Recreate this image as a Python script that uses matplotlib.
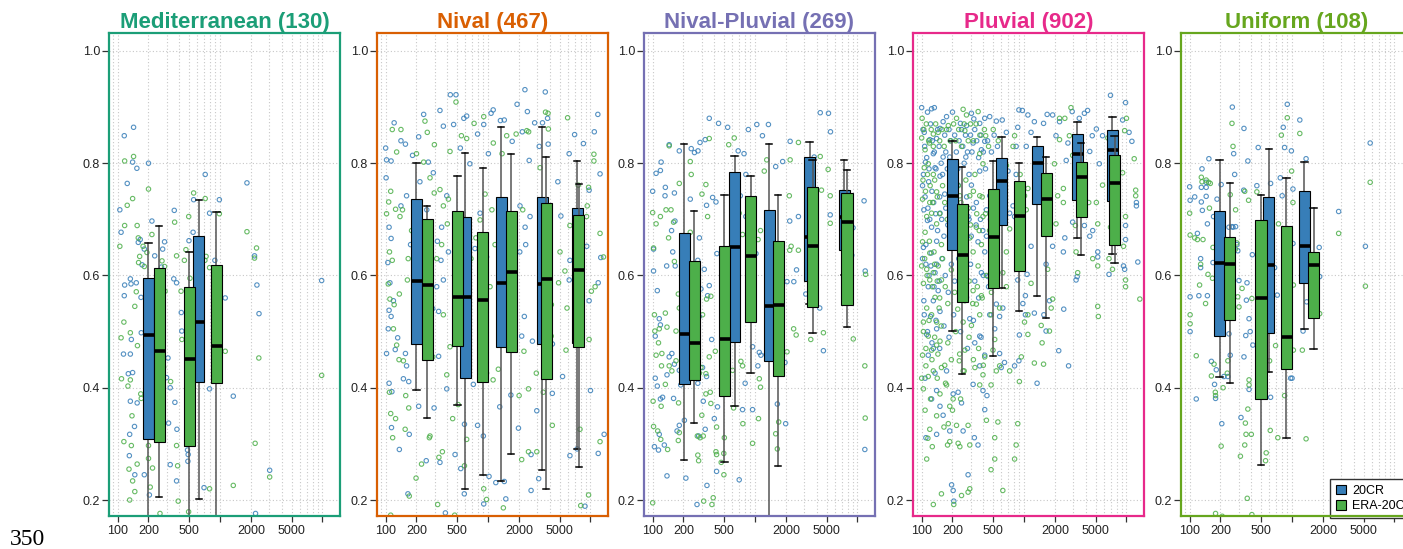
import matplotlib
matplotlib.use('Agg')
import matplotlib.pyplot as plt
from matplotlib.patches import Rectangle, Patch
from matplotlib.ticker import FixedLocator, NullLocator

plt.rcParams['font.family'] = ['Liberation Sans', 'DejaVu Sans']

BLUE = '#377eb8'
GREEN = '#4daf4a'

regimes = ['Mediterranean', 'Nival', 'Nival-Pluvial', 'Pluvial', 'Uniform']
n_catch = [130, 467, 269, 902, 108]
regime_colors = ['#1b9e77', '#d95f02', '#7570b3', '#e7298a', '#66a61e']

x_ticks = [100, 200, 500, 1000, 2000, 5000, 10000]
x_ticklabels = ['100', '200', '500', '', '2000', '5000', '']
y_ticks = [0.2, 0.4, 0.6, 0.8, 1.0]

# box stats: (area, whisker low, q1, median, q3, whisker high)
med_box_20cr = [(200, .10, .309, .494, .595, .657), (620, .202, .411, .518, .671, .735)]
med_box_era = [(254, .205, .304, .465, .613, .688), (500, .10, .297, .451, .580, .641),
               (920, .10, .408, .475, .618, .713)]
niv_box_20cr = [(200, .396, .478, .590, .736, .800), (596, .219, .417, .562, .704, .819),
                (1340, .233, .473, .586, .739, .864), (3370, .253, .478, .585, .739, .864),
                (7400, .291, .480, .620, .721, .804)]
niv_box_era = [(254, .346, .450, .583, .700, .724), (500, .370, .475, .562, .715, .777),
               (890, .244, .410, .556, .677, .792), (1680, .282, .464, .607, .714, .816),
               (3690, .219, .415, .594, .729, .811), (7700, .258, .473, .610, .707, .763)]
nip_box_20cr = [(203, .272, .406, .495, .675, .835), (630, .367, .481, .650, .785, .813),
                (1370, .10, .447, .545, .716, .834), (3420, .55, .590, .669, .811, .837),
                (7400, .60, .645, .705, .752, .806)]
nip_box_era = [(254, .337, .413, .479, .626, .714), (500, .267, .386, .487, .652, .744),
               (905, .426, .518, .634, .742, .777), (1680, .261, .421, .547, .661, .744),
               (3660, .497, .543, .652, .757, .805), (7900, .508, .548, .695, .747, .788)]
plu_box_20cr = [(199, .501, .646, .742, .807, .840), (603, .577, .690, .769, .810, .847),
                (1340, .564, .728, .801, .830, .847), (3310, .667, .734, .817, .852, .874),
                (7290, .639, .733, .824, .860, .883)]
plu_box_era = [(248, .425, .552, .637, .728, .793), (499, .456, .578, .668, .754, .804),
               (893, .536, .608, .706, .768, .800), (1640, .524, .671, .737, .782, .811),
               (3610, .637, .705, .775, .802, .836), (7640, .623, .654, .764, .815, .849)]
uni_box_20cr = [(196, .420, .493, .622, .715, .806), (594, .428, .498, .619, .740, .825),
                (1320, .505, .586, .653, .750, .802)]
uni_box_era = [(247, .408, .521, .620, .668, .764), (497, .262, .380, .560, .699, .744),
               (877, .311, .433, .490, .689, .773), (1620, .469, .524, .618, .642, .720)]

# catchments: (area, value)
med_pts_20cr = [(143, .864), (116, .849), (140, .802), (154, .791), (124, .764), (200, .800), (105, .717),
                (108, .677), (116, .564), (117, .583), (133, .594), (135, .585), (152, .587), (159, .659),
                (166, .664), (182, .647), (173, .619), (169, .561), (170, .498), (136, .486), (114, .460),
                (133, .460), (127, .425), (140, .427), (133, .376), (155, .373), (146, .331), (131, .317),
                (130, .279), (147, .245), (182, .245), (204, .209), (216, .697), (230, .635), (287, .660),
                (275, .647), (268, .615), (310, .453), (300, .418), (326, .400), (314, .337), (326, .263),
                (379, .326), (362, .374), (376, .234), (357, .716), (353, .594), (376, .587), (418, .534),
                (423, .501), (481, .289), (488, .281), (485, .269), (545, .677), (552, .735), (497, .662),
                (716, .780), (697, .222), (790, .711), (790, .398), (890, .627), (984, .735), (1123, .560),
                (1346, .385), (1830, .765), (2170, .635), (2290, .583), (2400, .532), (2220, .176),
                (3050, .253), (9820, .591)]
med_pts_era = [(117, .804), (143, .812), (124, .725), (140, .737), (117, .689), (105, .652), (108, .489),
               (115, .517), (155, .689), (159, .667), (177, .652), (193, .641), (182, .616), (164, .634),
               (147, .545), (152, .571), (160, .623), (133, .498), (133, .414), (109, .416), (126, .403),
               (168, .389), (170, .381), (138, .350), (156, .475), (115, .304), (136, .297), (129, .255),
               (155, .264), (140, .234), (147, .215), (131, .200), (200, .754), (216, .673), (271, .626),
               (287, .616), (290, .572), (281, .437), (200, .297), (200, .274), (208, .223), (219, .257),
               (259, .176), (329, .411), (376, .297), (385, .261), (390, .198), (360, .695), (376, .635),
               (416, .572), (448, .627), (464, .646), (494, .705), (508, .595), (424, .486), (493, .179),
               (552, .747), (716, .737), (730, .634), (711, .627), (790, .614), (984, .710), (1123, .465),
               (790, .220), (1346, .226), (1830, .678), (2270, .649), (2170, .631), (2390, .453),
               (2200, .301), (3050, .241), (9820, .422)]

niv_pts_20cr = [(100, .827), (102, .806), (113, .804), (121, .872), (141, .840), (156, .834), (183, .814),
                (210, .847), (235, .887), (261, .802), (292, .783), (339, .894), (366, .866), (428, .922),
                (486, .922), (461, .869), (536, .827), (580, .880), (618, .884), (664, .799), (790, .852),
                (907, .869), (1070, .889), (1122, .895), (1007, .817), (1320, .876), (1440, .877),
                (1720, .839), (1920, .905), (2290, .931), (2420, .892), (2160, .856), (2520, .805),
                (2850, .872), (3400, .872), (3620, .927), (3810, .880), (3860, .834), (3160, .830),
                (4800, .767), (5140, .706), (6190, .817), (7000, .851), (8530, .835), (10900, .856),
                (11800, .887), (12400, .781), (9700, .752), (101, .774), (108, .686), (113, .666),
                (105, .623), (110, .587), (119, .555), (108, .538), (113, .527), (106, .505), (131, .489),
                (124, .468), (102, .461), (108, .408), (115, .393), (114, .329), (136, .290), (149, .416),
                (168, .411), (160, .439), (170, .317), (165, .211), (156, .461), (210, .367), (249, .270),
                (297, .364), (329, .456), (288, .541), (329, .536), (315, .580), (395, .398), (383, .177),
                (339, .267), (476, .281), (541, .256), (588, .335), (586, .211), (532, .511), (718, .406),
                (790, .333), (899, .314), (907, .193), (1022, .242), (1190, .231), (1300, .366),
                (1490, .202), (1440, .233), (1670, .387), (1980, .328), (2130, .492), (2260, .527),
                (2630, .281), (2710, .483), (2990, .359), (2630, .217), (3120, .238), (4240, .390),
                (5340, .420), (6300, .279), (7400, .291), (8840, .189), (10000, .395), (11900, .283),
                (13600, .317), (6200, .592), (6300, .627), (9200, .652), (9700, .555), (11900, .587),
                (12600, .632), (4250, .478), (3720, .498), (2300, .686), (2040, .642), (2330, .655),
                (2570, .705), (2050, .724), (967, .633), (835, .711), (745, .648), (410, .642), (352, .686),
                (320, .661), (252, .717), (216, .767), (395, .742), (366, .592), (347, .627), (160, .742),
                (141, .724), (175, .655)]
niv_pts_era = [(116, .860), (141, .860), (128, .820), (112, .750), (102, .710), (107, .731), (125, .718),
               (138, .705), (109, .642), (116, .627), (106, .585), (110, .558), (121, .548), (136, .567),
               (119, .505), (128, .476), (135, .450), (149, .448), (109, .392), (112, .354), (125, .345),
               (117, .311), (112, .173), (157, .386), (168, .364), (155, .326), (198, .239), (170, .207),
               (200, .817), (242, .875), (255, .855), (271, .774), (235, .802), (299, .833), (298, .747),
               (339, .753), (366, .724), (410, .736), (425, .821), (486, .909), (549, .849), (618, .844),
               (730, .871), (907, .883), (1125, .836), (1370, .817), (1520, .849), (1880, .852),
               (2390, .858), (2490, .856), (3640, .891), (3850, .889), (3880, .861), (3220, .792),
               (5980, .881), (7600, .761), (10800, .804), (10800, .816), (9580, .757), (9300, .724),
               (9160, .705), (12400, .675), (13400, .633), (11100, .580), (10200, .572), (9700, .486),
               (12400, .304), (9580, .209), (8030, .190), (7900, .326), (5770, .467), (5900, .542),
               (5630, .608), (4880, .587), (4150, .548), (4130, .492), (3460, .392), (4240, .333),
               (2960, .426), (2990, .286), (2480, .398), (2240, .465), (2010, .386), (2480, .286),
               (2130, .272), (1410, .186), (1260, .433), (1120, .414), (967, .426), (907, .220),
               (967, .201), (618, .308), (588, .261), (472, .173), (510, .370), (451, .345), (358, .286),
               (331, .276), (322, .192), (395, .423), (288, .455), (271, .314), (224, .264), (267, .311),
               (1640, .642), (1830, .617), (2180, .717), (1700, .699), (1090, .717), (935, .745),
               (835, .699), (760, .667), (681, .630), (1170, .655), (1045, .580), (956, .598), (400, .692),
               (352, .655), (315, .630), (366, .530), (425, .473), (216, .692), (231, .617), (166, .630),
               (179, .680), (163, .592), (146, .717), (5040, .642), (6300, .689)]

nip_pts_20cr = [(100, .750), (102, .608), (102, .647), (108, .782), (119, .787), (121, .802), (132, .742),
                (145, .833), (133, .757), (153, .680), (163, .747), (157, .642), (137, .617), (182, .822),
                (166, .617), (165, .697), (111, .573), (116, .523), (119, .512), (106, .492), (106, .417),
                (111, .403), (119, .380), (125, .383), (138, .423), (145, .455), (163, .442), (160, .381),
                (154, .461), (182, .431), (188, .405), (104, .295), (114, .289), (130, .298), (116, .317),
                (173, .323), (182, .333), (138, .243), (211, .239), (204, .342), (233, .736), (238, .826),
                (256, .819), (277, .822), (290, .837), (326, .842), (357, .880), (440, .871), (540, .864),
                (684, .822), (780, .817), (860, .860), (1040, .869), (1350, .869), (1180, .849),
                (1590, .794), (1860, .803), (2200, .839), (2180, .697), (2650, .705), (2540, .610),
                (2390, .589), (286, .667), (276, .627), (268, .611), (296, .576), (286, .527), (344, .564),
                (357, .582), (319, .611), (336, .725), (385, .739), (415, .731), (424, .639), (377, .486),
                (336, .420), (307, .436), (276, .408), (312, .376), (326, .326), (281, .314), (271, .192),
                (339, .226), (421, .251), (400, .345), (430, .366), (700, .236), (650, .711), (813, .705),
                (717, .742), (813, .780), (845, .673), (910, .627), (1020, .639), (945, .473), (1100, .463),
                (800, .408), (755, .361), (945, .361), (1140, .458), (1065, .439), (1280, .459),
                (1650, .371), (1990, .336), (1960, .445), (2050, .589), (4280, .542), (4650, .466),
                (5210, .889), (4330, .890), (5450, .856), (5420, .708), (9050, .685), (8800, .636),
                (11600, .733), (11900, .608), (11800, .290), (3130, .567), (3780, .811)]
nip_pts_era = [(100, .195), (101, .376), (102, .331), (104, .530), (108, .458), (105, .501), (102, .649),
               (100, .712), (108, .692), (119, .705), (116, .505), (114, .480), (122, .439), (123, .461),
               (133, .533), (138, .508), (133, .406), (145, .439), (121, .367), (112, .323), (120, .308),
               (140, .290), (154, .430), (169, .448), (179, .373), (178, .306), (182, .320), (135, .717),
               (143, .667), (151, .717), (160, .695), (145, .831), (182, .764), (163, .625), (178, .567),
               (182, .542), (169, .501), (233, .803), (238, .780), (233, .677), (273, .314), (281, .270),
               (290, .311), (312, .314), (276, .280), (286, .426), (296, .436), (331, .425), (357, .455),
               (331, .389), (365, .392), (370, .372), (302, .351), (315, .198), (379, .192), (390, .204),
               (303, .745), (331, .762), (344, .705), (357, .844), (370, .563), (336, .558), (307, .530),
               (409, .465), (421, .330), (415, .286), (421, .281), (501, .311), (495, .283), (496, .245),
               (467, .267), (553, .833), (603, .431), (617, .364), (626, .845), (661, .755), (700, .711),
               (755, .673), (727, .447), (755, .439), (760, .336), (945, .301), (1080, .345), (1100, .416),
               (1130, .401), (1070, .664), (1130, .680), (1230, .786), (1300, .806), (1590, .318),
               (1650, .291), (1700, .339), (2050, .464), (2160, .742), (2250, .652), (2180, .645),
               (2200, .806), (2650, .837), (2650, .645), (2520, .494), (2380, .505), (3500, .486),
               (4330, .812), (4450, .752), (4650, .498), (5170, .789), (5420, .742), (5420, .693),
               (9100, .487), (11800, .439), (11900, .346), (12000, .602)]

plu_pts_20cr = [(100, .899), (114, .891), (125, .897), (133, .899), (151, .862), (162, .874), (175, .883),
                (200, .891), (239, .871), (274, .867), (306, .889), (323, .879), (369, .871), (413, .880),
                (462, .883), (106, .855), (120, .842), (140, .844), (130, .817), (109, .802), (104, .780),
                (117, .767), (135, .792), (151, .777), (162, .811), (188, .811), (168, .745), (105, .717),
                (114, .698), (125, .686), (140, .661), (151, .711), (110, .655), (102, .630), (123, .617),
                (135, .605), (116, .580), (105, .555), (130, .555), (145, .573), (122, .527), (140, .505),
                (151, .536), (112, .495), (130, .470), (116, .458), (135, .426), (108, .417), (140, .395),
                (125, .380), (151, .367), (110, .311), (140, .317), (188, .323), (203, .389), (227, .392),
                (245, .373), (254, .323), (203, .217), (206, .198), (196, .227), (284, .245), (162, .351),
                (175, .430), (318, .406), (327, .311), (355, .298), (236, .711), (264, .655), (284, .705),
                (306, .761), (342, .730), (369, .786), (383, .824), (413, .839), (318, .836), (270, .811),
                (227, .761), (254, .592), (274, .561), (295, .523), (330, .480), (369, .492), (369, .439),
                (413, .458), (413, .361), (397, .395), (434, .386), (446, .598), (413, .642), (383, .605),
                (429, .717), (462, .742), (462, .530), (517, .505), (536, .549), (577, .527), (577, .461),
                (598, .436), (644, .445), (620, .542), (672, .855), (612, .877), (536, .875), (697, .786),
                (723, .711), (780, .724), (837, .830), (868, .864), (890, .895), (962, .894), (1090, .886),
                (1170, .855), (1050, .830), (837, .780), (808, .705), (900, .636), (890, .448), (808, .439),
                (868, .592), (973, .550), (1030, .530), (900, .494), (1030, .564), (1070, .602),
                (1170, .652), (1260, .874), (1310, .824), (1550, .871), (1680, .887), (1900, .886),
                (2050, .849), (2220, .874), (2580, .805), (2680, .836), (2950, .892), (3460, .880),
                (3880, .889), (4170, .894), (4380, .821), (4630, .849), (5080, .861), (5840, .849),
                (5430, .799), (4380, .670), (4680, .680), (3880, .689), (3220, .592), (3300, .598),
                (2980, .695), (2500, .667), (2420, .642), (1900, .652), (1640, .620), (1560, .530),
                (1260, .533), (1340, .408), (1640, .501), (1770, .555), (2180, .466), (2440, .540),
                (2720, .439), (5240, .642), (5240, .633), (6750, .602), (9350, .617), (6980, .921),
                (9800, .908), (10600, .855), (11300, .839), (9170, .877), (12900, .624), (12500, .730),
                (12500, .724), (9800, .664), (9600, .611), (9800, .689),
                (103, .86), (107, .83), (112, .81), (118, .79), (122, .87), (127, .84), (133, .82), (138, .79),
                (143, .86), (148, .83), (155, .80), (160, .78), (168, .85), (172, .82), (178, .79), (185, .86),
                (192, .84), (210, .85), (218, .82), (225, .79), (232, .84), (245, .86), (252, .83), (260, .80),
                (268, .85), (280, .82), (290, .78), (300, .85), (310, .82), (330, .86), (345, .84), (360, .81),
                (380, .85), (400, .82), (420, .79), (440, .84), (480, .82), (510, .85), (550, .83), (590, .80),
                (102, .76), (108, .74), (115, .72), (120, .70), (126, .75), (131, .73), (137, .71), (143, .68),
                (150, .74), (157, .70), (165, .67), (172, .72), (180, .69), (190, .66), (200, .71), (212, .68),
                (222, .65), (235, .72), (248, .69), (258, .66), (275, .74), (290, .70), (305, .67), (320, .72),
                (340, .69), (355, .66), (375, .70), (395, .68), (430, .67), (470, .70), (520, .68), (560, .71),
                (104, .65), (110, .62), (118, .60), (124, .64), (132, .58), (140, .62), (148, .59), (158, .63),
                (170, .60), (182, .57), (195, .62), (210, .59), (230, .63), (250, .60), (270, .57), (300, .62),
                (330, .59), (360, .56), (400, .60), (450, .58), (106, .53), (114, .50), (126, .48), (138, .52),
                (150, .47), (165, .51), (185, .49), (205, .53), (240, .50), (280, .47), (320, .52), (380, .49)]
plu_pts_era = [(100, .845), (108, .824), (119, .836), (130, .852), (145, .855), (182, .867), (219, .880),
               (254, .896), (274, .886), (356, .892), (264, .858), (106, .792), (116, .799), (130, .780),
               (140, .749), (102, .736), (120, .730), (112, .705), (125, .711), (140, .692), (108, .677),
               (119, .661), (132, .642), (100, .617), (112, .611), (130, .605), (145, .617), (156, .655),
               (104, .586), (120, .592), (135, .561), (148, .542), (156, .592), (112, .542), (125, .530),
               (104, .517), (140, .517), (116, .492), (102, .458), (110, .439), (125, .467), (140, .476),
               (151, .483), (156, .436), (130, .430), (100, .417), (104, .398), (116, .420), (142, .417),
               (151, .389), (175, .405), (188, .367), (203, .380), (188, .304), (219, .333), (227, .301),
               (236, .295), (284, .333), (295, .298), (284, .214), (295, .220), (245, .208), (206, .192),
               (156, .211), (130, .192), (112, .273), (120, .326), (127, .295), (179, .298), (182, .336),
               (171, .408), (233, .448), (254, .430), (264, .467), (306, .511), (342, .549), (369, .530),
               (383, .564), (318, .573), (356, .617), (318, .642), (383, .655), (342, .686), (397, .705),
               (369, .742), (331, .780), (369, .817), (397, .799), (422, .849), (219, .799), (236, .742),
               (274, .717), (295, .667), (295, .742), (264, .555), (254, .517), (413, .455), (397, .423),
               (331, .436), (369, .405), (429, .342), (476, .405), (517, .311), (555, .339), (517, .273),
               (476, .254), (620, .217), (868, .336), (837, .298), (808, .273), (900, .411), (723, .430),
               (497, .467), (517, .486), (577, .439), (536, .430), (476, .530), (577, .542), (672, .580),
               (620, .605), (672, .642), (723, .683), (620, .749), (672, .796), (780, .830), (808, .849),
               (915, .780), (1010, .742), (1050, .717), (1090, .755), (940, .692), (1170, .586),
               (1090, .530), (1010, .517), (1090, .495), (940, .455), (1260, .444), (1550, .442),
               (1500, .480), (1470, .511), (1840, .542), (1770, .501), (1900, .558), (1700, .611),
               (2050, .692), (2130, .742), (2420, .730), (2420, .755), (1980, .799), (2220, .842),
               (2770, .849), (2980, .814), (2500, .880), (2870, .899), (2220, .880), (3340, .742),
               (3170, .689), (3220, .642), (3340, .605), (4280, .730), (4680, .630), (5240, .692),
               (5240, .617), (5310, .527), (5240, .545), (5080, .730), (5840, .761), (6580, .845),
               (6750, .630), (7300, .611), (6980, .686), (9350, .652), (9800, .705), (9800, .592),
               (9800, .580), (9170, .783), (9600, .858), (10000, .880), (11900, .808), (12300, .752),
               (12300, .742), (13500, .558),
               (101, .88), (105, .86), (111, .87), (117, .84), (124, .86), (130, .83), (137, .87), (150, .84),
               (158, .86), (166, .83), (175, .86), (190, .84), (205, .87), (215, .84), (230, .86), (245, .83),
               (260, .87), (285, .84), (300, .87), (320, .84), (340, .87), (370, .85), (410, .86), (450, .83),
               (500, .86), (560, .84), (103, .77), (109, .75), (114, .78), (121, .76), (128, .73), (134, .77),
               (142, .74), (150, .71), (160, .76), (168, .73), (178, .70), (188, .75), (198, .72), (215, .69),
               (228, .76), (242, .73), (255, .70), (270, .77), (285, .72), (300, .69), (320, .75), (345, .71),
               (365, .68), (390, .74), (420, .71), (460, .68), (510, .73), (560, .70), (102, .66), (107, .63),
               (113, .60), (120, .64), (127, .58), (134, .62), (142, .59), (150, .56), (160, .63), (170, .58),
               (180, .55), (195, .61), (210, .57), (225, .54), (245, .60), (265, .56), (290, .59), (315, .55),
               (350, .58), (390, .56), (430, .60), (480, .57), (104, .50), (110, .47), (118, .52), (126, .45),
               (134, .49), (144, .46), (155, .51), (168, .44), (180, .48), (195, .45), (215, .50), (235, .46),
               (260, .43), (290, .49), (320, .45), (360, .47), (400, .44), (108, .36), (122, .38), (140, .35),
               (165, .33), (200, .36), (240, .38), (115, .31)]

uni_pts_20cr = [(100, .758), (101, .734), (112, .740), (101, .562), (101, .500), (116, .380), (119, .675),
                (123, .564), (128, .614), (128, .630), (130, .757), (130, .731), (133, .716), (132, .790),
                (145, .757), (145, .766), (145, .741), (149, .692), (149, .564), (154, .808), (163, .447),
                (171, .705), (169, .623), (175, .406), (179, .381), (182, .432), (185, .736), (203, .762),
                (206, .336), (216, .420), (236, .420), (242, .496), (242, .686), (249, .458), (259, .687),
                (265, .686), (269, .817), (261, .900), (275, .780), (281, .687), (289, .655), (295, .644),
                (303, .591), (339, .862), (370, .804), (363, .587), (358, .556), (353, .493), (380, .523),
                (390, .500), (409, .637), (337, .752), (339, .455), (380, .397), (317, .347), (414, .476),
                (453, .760), (467, .828), (617, .764), (617, .383), (539, .426), (675, .614), (717, .565),
                (767, .774), (800, .742), (820, .864), (845, .828), (898, .905), (969, .417), (1000, .417),
                (985, .822), (1020, .754), (1020, .657), (1190, .877), (1280, .501), (1370, .808),
                (1390, .553), (1840, .650), (1860, .598), (2850, .714), (5200, .652), (5790, .836)]
uni_pts_era = [(100, .711), (101, .672), (101, .530), (101, .514), (112, .667), (116, .457), (119, .664),
               (125, .583), (128, .620), (130, .775), (132, .767), (135, .664), (143, .550), (145, .770),
               (153, .766), (159, .764), (156, .720), (151, .602), (169, .650), (167, .595), (163, .421),
               (173, .442), (178, .392), (179, .386), (179, .176), (208, .171), (203, .296), (212, .400),
               (233, .426), (236, .448), (249, .744), (259, .871), (265, .830), (281, .717), (280, .647),
               (289, .658), (295, .562), (303, .544), (313, .278), (325, .577), (345, .298), (355, .317),
               (350, .337), (365, .203), (370, .362), (380, .414), (380, .405), (376, .734), (345, .750),
               (400, .317), (405, .174), (405, .559), (453, .749), (467, .645), (551, .270), (559, .284),
               (612, .324), (603, .448), (690, .475), (726, .311), (737, .692), (786, .850), (898, .881),
               (990, .786), (1020, .730), (1030, .583), (1030, .467), (845, .386), (1190, .853),
               (1260, .467), (1370, .309), (1860, .532), (2850, .675), (5200, .581), (5790, .766)]

panel_pts = [(med_pts_20cr, med_pts_era), (niv_pts_20cr, niv_pts_era), (nip_pts_20cr, nip_pts_era),
             (plu_pts_20cr, plu_pts_era), (uni_pts_20cr, uni_pts_era)]
panel_boxes = [(med_box_20cr, med_box_era), (niv_box_20cr, niv_box_era), (nip_box_20cr, nip_box_era),
               (plu_box_20cr, plu_box_era), (uni_box_20cr, uni_box_era)]


def draw_box(ax, stats, color, z):
    area, lo, q1, med, q3, hi = stats
    half = 10 ** 0.054
    cap = 10 ** 0.032
    ax.plot([area, area], [lo, q1], color='#555555', lw=1.1, zorder=z)
    ax.plot([area, area], [q3, hi], color='#555555', lw=1.1, zorder=z)
    ax.plot([area / cap, area * cap], [lo, lo], color='black', lw=1.1, zorder=z)
    ax.plot([area / cap, area * cap], [hi, hi], color='black', lw=1.1, zorder=z)
    ax.add_patch(Rectangle((area / half, q1), area * half - area / half, q3 - q1,
                           facecolor=color, edgecolor='black', lw=0.8, zorder=z + 1))
    ax.plot([area / half, area * half], [med, med], color='black', lw=2.6,
            solid_capstyle='butt', zorder=z + 2)


W, H = 1403, 549
fig = plt.figure(figsize=(W / 100, H / 100), dpi=100)
lefts = [109, 377, 644, 913, 1181]
grid_x = [90] + [k * 100 for k in range(1, 10)] + [k * 1000 for k in range(1, 11)]

for i, left in enumerate(lefts):
    ax = fig.add_axes([left / W, (H - 516) / H, 231 / W, 483 / H])
    ax.set_xscale('log')
    ax.set_xlim(82.3, 14830)
    ax.set_ylim(0.1715, 1.032)

    for gx in grid_x:
        ax.axvline(gx, color='#c8c8c8', lw=0.8, ls=(0, (1, 2)), zorder=0)
    for gy in y_ticks:
        ax.axhline(gy, color='#c8c8c8', lw=0.8, ls=(0, (1, 2)), zorder=0)

    pts_20cr, pts_era = panel_pts[i]
    for pts, col in ((pts_20cr, BLUE), (pts_era, GREEN)):
        xs = [p[0] for p in pts]
        ys = [p[1] for p in pts]
        ax.scatter(xs, ys, s=10, facecolors='none', edgecolors=col, linewidths=0.8, alpha=0.85, zorder=2)

    box_20cr, box_era = panel_boxes[i]
    for b in box_20cr:
        draw_box(ax, b, BLUE, 3)
    for b in box_era:
        draw_box(ax, b, GREEN, 6)

    ax.xaxis.set_major_locator(FixedLocator(x_ticks))
    ax.xaxis.set_minor_locator(NullLocator())
    ax.set_xticklabels(x_ticklabels)
    ax.set_yticks(y_ticks)
    ax.set_yticklabels(['%.1f' % v for v in y_ticks])
    ax.tick_params(axis='both', direction='out', color='#333333', labelcolor='#222222',
                   labelsize=9, width=0.9)
    ax.tick_params(axis='y', length=5, pad=1.5)
    ax.tick_params(axis='x', length=4.5, pad=2)

    for sp in ax.spines.values():
        sp.set_color(regime_colors[i])
        sp.set_linewidth(1.6)
        sp.set_zorder(20)

    ax.set_title(f'{regimes[i]} ({n_catch[i]})', color=regime_colors[i], fontsize=16,
                 fontweight='bold', pad=1)

    if i == len(lefts) - 1:
        handles = [Patch(facecolor=BLUE, edgecolor='black', lw=0.8, label='20CR'),
                   Patch(facecolor=GREEN, edgecolor='black', lw=0.8, label='ERA-20C')]
        leg = ax.legend(handles=handles, loc='lower left', bbox_to_anchor=(0.645, -0.005),
                        fontsize=9, frameon=True, fancybox=False, framealpha=1,
                        edgecolor='#333333', handlelength=0.8, handleheight=0.8,
                        handletextpad=0.5, labelspacing=0.25, borderpad=0.5, borderaxespad=0)
        leg.get_frame().set_linewidth(1.0)
        leg.set_zorder(15)

fig.text(10 / W, 4 / H, '350', fontsize=17, family=['Liberation Serif', 'DejaVu Serif'],
         va='baseline', ha='left')

fig.savefig('out.png', dpi=100)
